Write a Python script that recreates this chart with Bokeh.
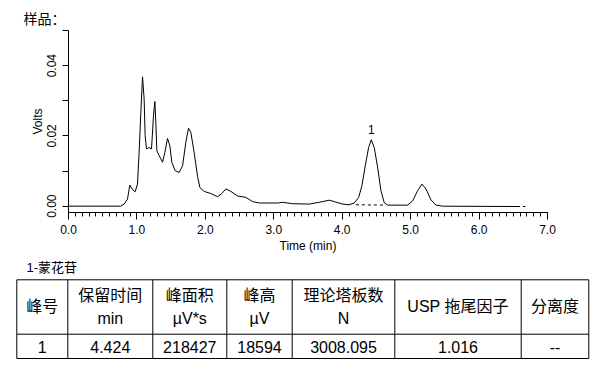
from bokeh.plotting import figure
from bokeh.models import Range1d, FixedTicker, NumeralTickFormatter
from bokeh.core.properties import value
from bokeh.embed import file_html
from bokeh.resources import INLINE

# ---------------- data ----------------
time_min = [0.0, 0.76, 0.813, 0.862, 0.896, 0.935, 0.974, 1.008, 1.032, 1.057, 1.082,
            1.105, 1.12, 1.14, 1.178, 1.213, 1.242, 1.262, 1.276, 1.291, 1.325, 1.374,
            1.408, 1.447, 1.481, 1.51, 1.559, 1.617, 1.667, 1.715, 1.754, 1.788, 1.836,
            1.886, 1.92, 1.983, 2.08, 2.178, 2.241, 2.30, 2.373, 2.47, 2.592, 2.69,
            2.787, 3.055, 3.129, 3.275, 3.518, 3.664, 3.81, 3.883, 4.006, 4.10, 4.176,
            4.24, 4.288, 4.337, 4.386, 4.424, 4.468, 4.518, 4.566, 4.614, 4.664, 4.956,
            5.029, 5.102, 5.165, 5.224, 5.297, 5.37, 5.468, 6.54]
volts = [0.0, 0.0, 0.0006, 0.002, 0.006, 0.0047, 0.0041, 0.0063, 0.0153, 0.0267, 0.0368,
         0.0306, 0.0201, 0.0163, 0.0167, 0.0163, 0.0258, 0.0298, 0.0239, 0.0158, 0.0144,
         0.0125, 0.0153, 0.0193, 0.0172, 0.0125, 0.0101, 0.0096, 0.0115, 0.0182, 0.0222,
         0.021, 0.0153, 0.0085, 0.0053, 0.0042, 0.0036, 0.0027, 0.0036, 0.0049, 0.0042,
         0.0029, 0.0025, 0.0013, 0.0009, 0.0009, 0.0011, 0.0007, 0.0006, 0.0011, 0.0017,
         0.0013, 0.0006, 0.0004, 0.0009, 0.0025, 0.0058, 0.0115, 0.0167, 0.0189, 0.0167,
         0.011, 0.0044, 0.001, 0.0003, 0.0003, 0.0015, 0.0044, 0.0063, 0.0049, 0.0018,
         0.0003, 0.0, -0.0001]

baseline_t = [4.20, 4.64]
baseline_v = [0.0004, 0.0003]
tail_t = [6.54, 6.68]
tail_v = [-0.0001, -0.0001]

peak_names = ["1"]
peak_t = [4.424]
peak_v = [0.0189]

x_ticks = [0, 1, 2, 3, 4, 5, 6, 7]
y_ticks = [0.0, 0.02, 0.04]
y_minor_ticks = [0.01, 0.03, 0.05]

chart_title = "样品："
table_title = "1-蒙花苷"
header_top = ["峰号", "保留时间", "峰面积", "峰高", "理论塔板数", "USP 拖尾因子", "分离度"]
header_unit = ["", "min", "µV*s", "µV", "N", "", ""]
row_values = ["1", "4.424", "218427", "18594", "3008.095", "1.016", "--"]

LAT = "Liberation Sans"
MIX = "Liberation Sans, Noto Sans CJK SC"
W = 616


def blank(height):
    f = figure(width=W, height=height, x_range=Range1d(0, W), y_range=Range1d(height, 0),
               output_backend="svg", toolbar_location=None, min_border=0,
               x_axis_type=None, y_axis_type=None)
    f.outline_line_color = None
    f.grid.visible = False
    return f


# ---------------- heading ----------------
head = blank(30)
head.text(x=[23], y=[17], text=[chart_title], text_align="left", text_baseline="middle",
          text_font=value("Noto Sans CJK SC"), text_font_size="14px", text_color="black")

# ---------------- chromatogram ----------------
p = figure(width=W, height=228, x_range=Range1d(0, 7), y_range=Range1d(-0.0018, 0.05),
           output_backend="svg", toolbar_location=None,
           min_border_left=68, min_border_right=69, min_border_top=0, min_border_bottom=46)
p.outline_line_color = None
p.grid.visible = False

p.line(time_min, volts, line_color="black", line_width=1)
p.line(baseline_t, baseline_v, line_color="black", line_width=1, line_dash="3 3")
p.line(tail_t, tail_v, line_color="black", line_width=1, line_dash="4 3")
p.text(x=peak_t, y=peak_v, text=peak_names, y_offset=-6, text_align="center",
       text_baseline="bottom", text_font=value(LAT), text_font_size="12px", text_color="black")

xa = p.xaxis[0]
xa.ticker = FixedTicker(ticks=x_ticks, minor_ticks=[i / 10 for i in range(0, 71)])
xa.formatter = NumeralTickFormatter(format="0.0")
xa.major_tick_out = 7
xa.major_tick_in = 0
xa.minor_tick_out = 4
xa.minor_tick_in = 0
xa.axis_label = "Time (min)"
xa.axis_label_standoff = 2

ya = p.yaxis[0]
ya.ticker = FixedTicker(ticks=y_ticks, minor_ticks=y_minor_ticks)
ya.formatter = NumeralTickFormatter(format="0.00")
ya.major_tick_out = 6
ya.major_tick_in = 0
ya.minor_tick_out = 6
ya.minor_tick_in = 0
ya.major_label_orientation = "vertical"
ya.major_label_standoff = 6
ya.axis_label = "Volts"
ya.axis_label_standoff = 0

for ax in (xa, ya):
    ax.axis_line_color = "black"
    ax.major_tick_line_color = "black"
    ax.minor_tick_line_color = "black"
    ax.major_label_text_font = LAT
    ax.major_label_text_font_size = "12px"
    ax.major_label_text_color = "black"
    ax.axis_label_text_font = LAT
    ax.axis_label_text_font_size = "12px"
    ax.axis_label_text_font_style = "normal"
    ax.axis_label_text_color = "black"

# ---------------- table ----------------
t = blank(119)
col_edges = [16.3, 67.3, 152.3, 226.3, 291.7, 394.3, 520.7, 588.3]
row_edges = [21.3, 75.7, 100.0]

t.segment(x0=[col_edges[0]] * len(row_edges), x1=[col_edges[-1]] * len(row_edges),
          y0=row_edges, y1=row_edges, line_color="black", line_width=1)
t.segment(x0=col_edges, x1=col_edges, y0=[row_edges[0]] * len(col_edges),
          y1=[row_edges[-1]] * len(col_edges), line_color="black", line_width=1)

centers = [(col_edges[i] + col_edges[i + 1]) / 2 for i in range(len(col_edges) - 1)]
hx, hy, htxt = [], [], []
for cx, top, unit in zip(centers, header_top, header_unit):
    if unit:
        hx += [cx, cx]
        hy += [36.5, 59.5]
        htxt += [top, unit]
    else:
        hx.append(cx)
        hy.append(47.5)
        htxt.append(top)
t.text(x=hx, y=hy, text=htxt, text_align="center", text_baseline="middle",
       text_font=value(MIX), text_font_size="16px", text_color="black")
t.text(x=centers, y=[88.5] * len(centers), text=row_values, text_align="center",
       text_baseline="middle", text_font=value(LAT), text_font_size="16px", text_color="black")
t.text(x=[26], y=[8.5], text=[table_title], text_align="left", text_baseline="middle",
       text_font=value(MIX), text_font_size="13px", text_color="black")

open("out.html", "w").write(file_html([head, p, t], INLINE))
